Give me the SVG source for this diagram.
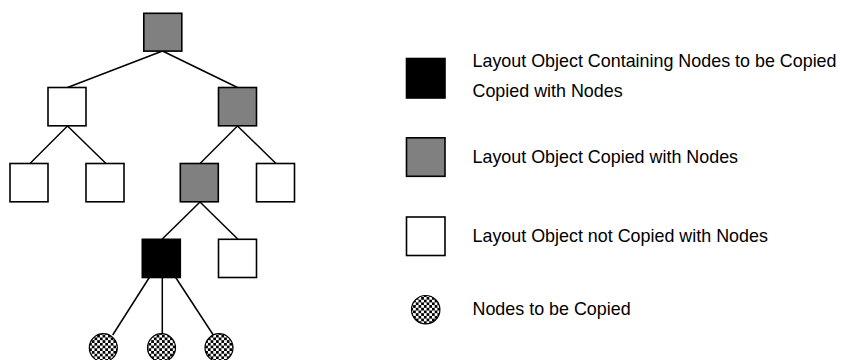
<svg xmlns="http://www.w3.org/2000/svg" width="846" height="360" viewBox="0 0 846 360">
<style>
.box{stroke:#000;stroke-width:1.6}
.gray{fill:#808080}
.white{fill:#fff}
.black{fill:#000}
.dot{fill:url(#checker);stroke:#000;stroke-width:1.2}
.edge{stroke:#000;stroke-width:1.5;fill:none}
text{font-family:"Liberation Sans",Arial,sans-serif;font-size:17.9px;fill:#000}
</style>
<defs>
<pattern id="checker" x="0" y="0" width="5.4" height="5.4" patternUnits="userSpaceOnUse">
<rect width="5.4" height="5.4" fill="#fff"/>
<rect width="2.7" height="2.7" fill="#000"/>
<rect x="2.7" y="2.7" width="2.7" height="2.7" fill="#000"/>
</pattern>
</defs>
<rect width="846" height="360" fill="#fff"/>
<g id="connectors">
<line class="edge" x1="162.5" y1="51" x2="67.5" y2="87.5"/>
<line class="edge" x1="162.5" y1="51" x2="237.5" y2="87.5"/>
<line class="edge" x1="67.5" y1="126" x2="30" y2="163.5"/>
<line class="edge" x1="67.5" y1="126" x2="106" y2="163.5"/>
<line class="edge" x1="237.5" y1="126" x2="200" y2="163.5"/>
<line class="edge" x1="237.5" y1="126" x2="276" y2="163.5"/>
<line class="edge" x1="200" y1="202" x2="162.3" y2="239"/>
<line class="edge" x1="200" y1="202" x2="237.7" y2="239"/>
<line class="edge" x1="149.3" y1="277.5" x2="112.7" y2="335"/>
<line class="edge" x1="162.3" y1="277.5" x2="162.3" y2="334"/>
<line class="edge" x1="175.7" y1="277.5" x2="213.3" y2="335"/>
</g>
<g id="n-root"><rect class="box gray" x="143.8" y="13.3" width="38" height="37.8"/></g>
<g id="n-l1"><rect class="box white" x="48" y="87.5" width="38" height="38.3"/></g>
<g id="n-r1"><rect class="box gray" x="218.5" y="87.5" width="38" height="38.3"/></g>
<g id="n-ll"><rect class="box white" x="10" y="163.5" width="38" height="38.3"/></g>
<g id="n-lr"><rect class="box white" x="86" y="163.5" width="38" height="38.3"/></g>
<g id="n-rl"><rect class="box gray" x="180.3" y="163.5" width="38" height="38.3"/></g>
<g id="n-rr"><rect class="box white" x="256.5" y="163.5" width="38" height="38.3"/></g>
<g id="n-black"><rect class="box black" x="142.3" y="239.3" width="38" height="38.2"/></g>
<g id="n-w4"><rect class="box white" x="218.5" y="239.3" width="38" height="38.2"/></g>
<g id="n-c1"><circle class="dot" cx="103.3" cy="347.7" r="14"/></g>
<g id="n-c2"><circle class="dot" cx="161.5" cy="347.7" r="14"/></g>
<g id="n-c3"><circle class="dot" cx="219" cy="347.7" r="14"/></g>
<g id="legend">
<rect class="box black" x="406.5" y="58.5" width="38.5" height="39.5"/>
<text x="472.5" y="67.3">Layout Object Containing Nodes to be Copied</text>
<text x="472.5" y="97.3">Copied with Nodes</text>
<rect class="box gray" x="406.5" y="137.8" width="38.5" height="38.5"/>
<text x="472.5" y="163.3">Layout Object Copied with Nodes</text>
<rect class="box white" x="406.5" y="217" width="38.5" height="38.5"/>
<text x="472.5" y="241.7">Layout Object not Copied with Nodes</text>
<circle class="dot" cx="425.7" cy="309.7" r="14.2"/>
<text x="472.5" y="315">Nodes to be Copied</text>
</g>
</svg>
